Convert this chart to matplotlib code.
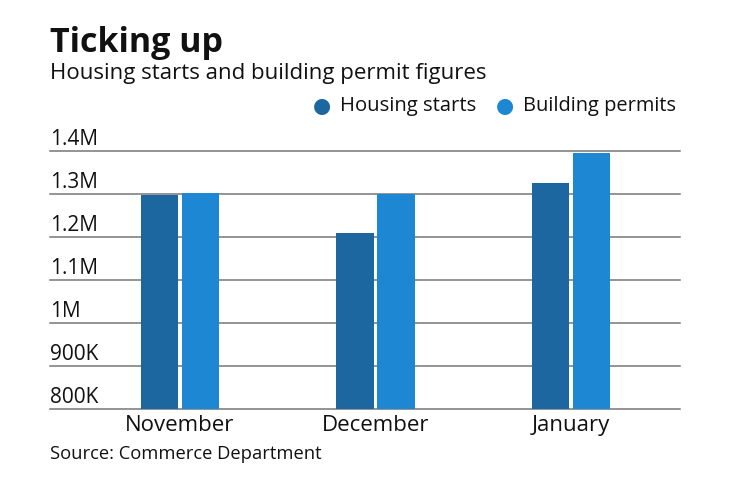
import matplotlib
matplotlib.use('Agg')
import matplotlib.pyplot as plt
import numpy as np

months = ['November', 'December', 'January']
starts = [1.298, 1.209, 1.326]      # millions
permits = [1.303, 1.300, 1.396]
tick_vals = [0.8, 0.9, 1.0, 1.1, 1.2, 1.3, 1.4]
tick_labels = ['800K', '900K', '1M', '1.1M', '1.2M', '1.3M', '1.4M']

c_starts = '#1d67a0'
c_permits = '#1e87d3'

plt.rcParams['font.family'] = ['Open Sans', 'DejaVu Sans']

fig = plt.figure(figsize=(7.4, 4.82), dpi=100)
ax = fig.add_axes([50/740, 1 - 409/482, 630/740, 258/482])

x = np.arange(len(months))
w = 0.19
off = 0.105
ax.bar(x - off, starts, w, color=c_starts, zorder=3)
ax.bar(x + off, permits, w, color=c_permits, zorder=3)

ax.set_xlim(-0.663, 2.556)
ax.set_ylim(0.8, 1.4)
for v, lab in zip(tick_vals, tick_labels):
    ax.axhline(v, color='#777777', lw=1.1, zorder=1, clip_on=False)
    ax.text(0.0, v + 0.002, lab, transform=ax.get_yaxis_transform(),
            ha='left', va='bottom', fontsize=15, color='#111111')

ax.set_yticks([])
ax.set_xticks(x)
ax.set_xticklabels(months, fontsize=16, color='#111111')
ax.tick_params(axis='x', length=0, pad=4)
for s in ax.spines.values():
    s.set_visible(False)

fig.text(50/740, 1 - 43/482, 'Ticking up', fontsize=24.5, fontweight='bold',
         ha='left', va='center', color='#111111')
fig.text(50/740, 1 - 74/482, 'Housing starts and building permit figures',
         fontsize=16, ha='left', va='center', color='#111111')

# legend
ly = 1 - 106/482
fig.text(322/740, ly, '\u25CF', fontsize=15, color=c_starts, ha='center', va='center',
         family=['DejaVu Sans'])
fig.text(340/740, ly, 'Housing starts', fontsize=14.6, ha='left', va='center', color='#111111')
fig.text(505/740, ly, '\u25CF', fontsize=15, color=c_permits, ha='center', va='center',
         family=['DejaVu Sans'])
fig.text(523/740, ly, 'Building permits', fontsize=14.4, ha='left', va='center', color='#111111')

fig.text(50/740, 1 - 454/482, 'Source: Commerce Department', fontsize=13.2,
         ha='left', va='center', color='#111111')

fig.savefig('out.png', dpi=100)
